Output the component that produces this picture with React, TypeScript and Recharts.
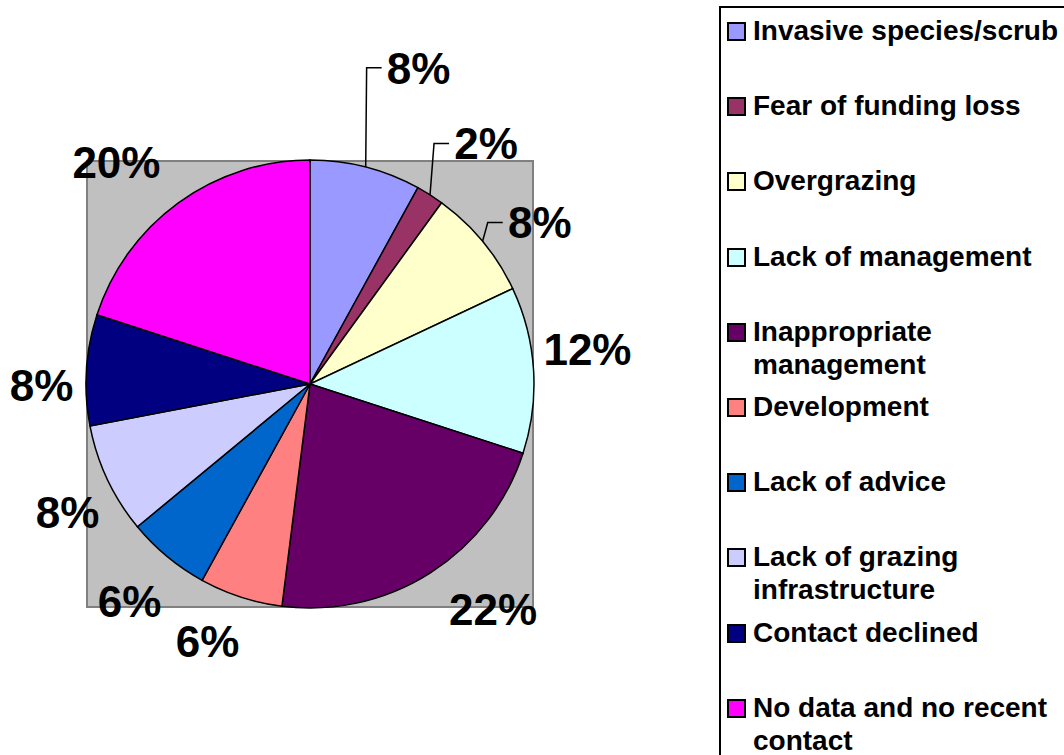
import { Legend, Pie, PieChart } from "recharts";

const categories = [
  "Invasive species/scrub",
  "Fear of funding loss",
  "Overgrazing",
  "Lack of management",
  "Inappropriate management",
  "Development",
  "Lack of advice",
  "Lack of grazing infrastructure",
  "Contact declined",
  "No data and no recent contact",
];
const shares = [8, 2, 8, 12, 22, 6, 6, 8, 8, 20];
const colors = [
  "#9999FF",
  "#993366",
  "#FFFFCC",
  "#CCFFFF",
  "#660066",
  "#FF8080",
  "#0066CC",
  "#CCCCFF",
  "#000080",
  "#FF00FF",
];

// label placement tweaks (px) relative to a ring just outside the pie
const labelNudge: [number, number][] = [
  [39, -45],
  [26, -4],
  [14, 17],
  [-2, -17],
  [33, -11],
  [-16, -9],
  [-2, 2],
  [11, 9],
  [11, 19],
  [-29, 5],
];
const withLeader = [true, true, true, false, false, false, false, false, false, false];

const FONT = "'Liberation Sans', Arial, Helvetica, sans-serif";
const CX = 310;
const CY = 384;
const R = 224;
const RAD = Math.PI / 180;

const data = categories.map((name, i) => ({ name, value: shares[i], fill: colors[i] }));

function renderLabel(props: any) {
  const { cx, cy, midAngle, outerRadius, percent, index } = props;
  const r = outerRadius + 56;
  const [nx, ny] = labelNudge[index] || [0, 0];
  const x = cx + r * Math.cos(-midAngle * RAD) + nx;
  const y = cy + r * Math.sin(-midAngle * RAD) + ny;
  const fs = 44;
  const txt = `${Math.round(percent * 100)}%`;
  const w = txt.length === 2 ? 64 : 88;
  let leader = null;
  if (withLeader[index]) {
    const sx = cx + outerRadius * Math.cos(-midAngle * RAD);
    const sy = cy + outerRadius * Math.sin(-midAngle * RAD);
    const left = x - w / 2;
    leader = (
      <path
        d={`M${sx},${sy} L${left - 20},${y} L${left - 5},${y}`}
        fill="none"
        stroke="#000"
        strokeWidth={1.5}
      />
    );
  }
  return (
    <g key={`lbl-${index}`}>
      {leader}
      <text
        x={x}
        y={y + fs * 0.358}
        textAnchor="middle"
        fontFamily={FONT}
        fontWeight="bold"
        fontSize={fs}
        fill="#000"
      >
        {txt}
      </text>
    </g>
  );
}

function LegendBox() {
  return (
    <div
      style={{
        width: 360,
        height: 780,
        border: "2px solid #000",
        background: "#fff",
        boxSizing: "border-box",
        position: "relative",
        fontFamily: FONT,
        fontWeight: "bold",
        fontSize: 28,
        lineHeight: "33px",
        color: "#000",
      }}
    >
      {categories.map((c, i) => (
        <div
          key={c}
          style={{
            position: "absolute",
            left: 6,
            top: 6 + i * 75.2,
            display: "flex",
            alignItems: "flex-start",
          }}
        >
          <span
            style={{
              display: "inline-block",
              width: 15,
              height: 15,
              marginTop: 8,
              marginRight: 7,
              border: "2px solid #000",
              background: colors[i],
              flex: "none",
            }}
          />
          <span style={{ width: 312, textAlign: "left" }}>{c}</span>
        </div>
      ))}
    </div>
  );
}

export default function App() {
  return (
    <div style={{ position: "absolute", left: 0, top: 0, width: 1064, height: 755, overflow: "hidden", background: "#fff" }}>
      <div
        style={{
          position: "absolute",
          left: CX - R,
          top: CY - R,
          width: 2 * R,
          height: 2 * R,
          background: "#C0C0C0",
          border: "2px solid #808080",
          boxSizing: "border-box",
        }}
      />
      <div style={{ position: "absolute", left: 0, top: 0 }}>
        <PieChart width={1064} height={755} margin={{ top: 0, right: 0, bottom: 0, left: 0 }}>
          <Pie
            data={data}
            dataKey="value"
            nameKey="name"
            cx={CX}
            cy={CY}
            outerRadius={R}
            startAngle={90}
            endAngle={-270}
            stroke="#000"
            strokeWidth={1.5}
            label={renderLabel}
            labelLine={false}
            isAnimationActive={false}
          />
          <Legend
            content={() => <LegendBox />}
            wrapperStyle={{ position: "absolute", left: 719, top: 6, width: 360 }}
          />
        </PieChart>
      </div>
    </div>
  );
}
